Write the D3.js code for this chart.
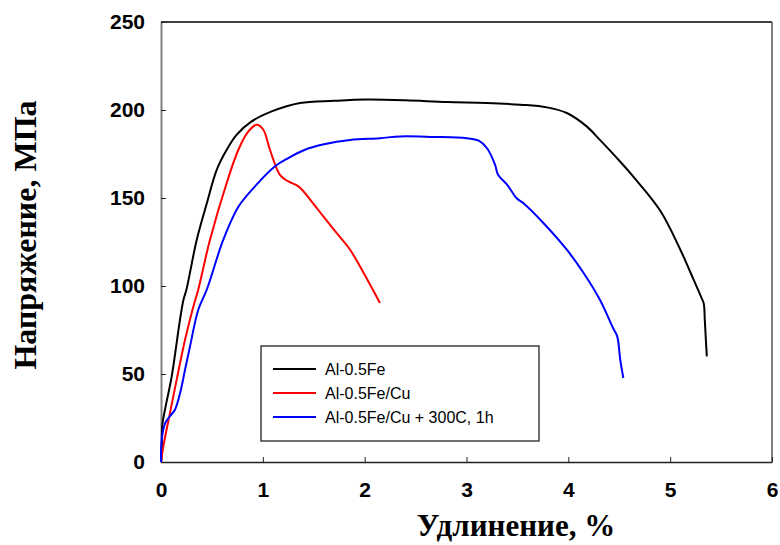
<!DOCTYPE html>
<html>
<head>
<meta charset="utf-8">
<script src="https://cdn.jsdelivr.net/npm/d3@7"></script>
<style>
  body { margin: 0; background: #fff; }
  svg { display: block; }
</style>
</head>
<body>
<div id="chart"></div>
<script>
// tensile curves: strain (%) vs stress (MPa)
const seriesNames = ["Al-0.5Fe", "Al-0.5Fe/Cu", "Al-0.5Fe/Cu + 300C, 1h"];
const seriesColors = ["#000000", "#ff0000", "#0000ff"];

const blackStrain = [0, 0.007, 0.013, 0.04, 0.105, 0.187, 0.22, 0.25, 0.35, 0.45, 0.547, 0.645, 0.744, 0.89, 1.087, 1.365, 1.7, 2.02, 2.4, 2.81, 3.2, 3.53, 3.79, 3.985, 4.18, 4.31, 4.48, 4.64, 4.9, 5.1, 5.23, 5.31, 5.33, 5.34, 5.35, 5.36];
const blackStress = [0, 5, 21, 30, 48.6, 81, 92, 98, 126, 147, 166, 177.4, 186, 193.5, 199.2, 204, 205.2, 205.9, 205.5, 204.5, 204, 203, 201.5, 198.3, 190.7, 183, 172.5, 162, 143, 120.6, 103.6, 93, 90, 80.8, 70, 60];

const redStrain = [0, 0.023, 0.088, 0.154, 0.236, 0.318, 0.366, 0.48, 0.645, 0.76, 0.858, 0.94, 1.005, 1.07, 1.17, 1.25, 1.35, 1.48, 1.594, 1.726, 1.857, 1.99, 2.07, 2.15];
const redStress = [0, 8.9, 27.8, 46.8, 69.5, 88.4, 98, 126, 158.5, 177.4, 187.8, 191.6, 188.8, 177.4, 163, 159.4, 156.6, 148, 139.5, 130, 120.6, 107.4, 99, 90.3];

const blueStrain = [0, 0.007, 0.04, 0.088, 0.137, 0.187, 0.236, 0.285, 0.366, 0.45, 0.61, 0.76, 0.923, 1.12, 1.25, 1.414, 1.6, 1.857, 2.15, 2.35, 2.675, 3.0, 3.12, 3.2, 3.28, 3.31, 3.4, 3.49, 3.56, 3.755, 3.985, 4.15, 4.31, 4.44, 4.48, 4.51, 4.54];
const blueStress = [0, 12.7, 22, 26, 29.7, 39, 52.4, 65.7, 86.5, 98, 126, 145, 156.6, 168, 172.7, 177.4, 180.5, 183, 184, 185, 184.7, 184, 182.6, 178.4, 169, 163.2, 157.5, 150, 147, 135.8, 120.6, 107.4, 92.2, 76, 71.4, 58, 47.7];

const xTicks = [0, 1, 2, 3, 4, 5, 6];
const yTicks = [0, 50, 100, 150, 200, 250];

const width = 780, height = 545;
const margin = { left: 161, right: 8, top: 22, bottom: 83 };

const svg = d3.select("#chart").append("svg")
    .attr("width", width)
    .attr("height", height);

const x = d3.scaleLinear().domain([0, 6]).range([margin.left, width - margin.right]);
const y = d3.scaleLinear().domain([0, 250]).range([height - margin.bottom, margin.top]);

// frame: top/bottom dark, left/right grey
svg.append("line")
    .attr("x1", x(0)).attr("x2", x(6)).attr("y1", y(250)).attr("y2", y(250))
    .attr("stroke", "#000").attr("stroke-width", 1.3);
svg.append("line")
    .attr("x1", x(6)).attr("x2", x(6)).attr("y1", y(250)).attr("y2", y(0))
    .attr("stroke", "#555").attr("stroke-width", 1.5);

let xAxis = svg.append("g")
    .attr("transform", "translate(0," + y(0) + ")")
    .call(d3.axisBottom(x).tickValues(xTicks).tickSizeInner(-5).tickSizeOuter(0).tickPadding(20).tickFormat(d3.format("d")));
xAxis.select(".domain").attr("stroke", "#222").attr("stroke-width", 1.6);
xAxis.selectAll(".tick line").attr("stroke", "#222");
xAxis.selectAll(".tick text")
    .style("font-family", "'Liberation Sans', Arial, sans-serif")
    .style("font-weight", "bold")
    .style("font-size", "21px")
    .attr("fill", "#000");

let yAxis = svg.append("g")
    .attr("transform", "translate(" + x(0) + ",0)")
    .call(d3.axisLeft(y).tickValues(yTicks).tickSizeInner(-5).tickSizeOuter(0).tickPadding(16));
yAxis.select(".domain").attr("stroke", "#808080").attr("stroke-width", 2);
yAxis.selectAll(".tick line").attr("stroke", "#222");
yAxis.selectAll(".tick text")
    .style("font-family", "'Liberation Sans', Arial, sans-serif")
    .style("font-weight", "bold")
    .style("font-size", "21px")
    .attr("fill", "#000");

// curves
const curves = [
    blackStrain.map((s, i) => [s, blackStress[i]]),
    redStrain.map((s, i) => [s, redStress[i]]),
    blueStrain.map((s, i) => [s, blueStress[i]])
];

let line = d3.line()
    .x(d => x(d[0]))
    .y(d => y(d[1]))
    .curve(d3.curveCatmullRom.alpha(0.5));

svg.append("g").selectAll("path")
    .data(curves)
    .join("path")
    .attr("d", line)
    .attr("fill", "none")
    .attr("stroke", (d, i) => seriesColors[i])
    .attr("stroke-width", 2)
    .attr("stroke-linejoin", "round");

// legend
let legend = svg.append("g").attr("transform", "translate(261,346)");
legend.append("rect")
    .attr("width", 278).attr("height", 95)
    .attr("fill", "#fff").attr("stroke", "#222").attr("stroke-width", 1.3);
seriesNames.forEach(function (name, i) {
    let ly = 23 + i * 24;
    legend.append("line")
        .attr("x1", 12).attr("x2", 55).attr("y1", ly).attr("y2", ly)
        .attr("stroke", seriesColors[i]).attr("stroke-width", 2);
    legend.append("text")
        .attr("x", 64).attr("y", ly).attr("dy", "0.35em")
        .style("font-family", "'Liberation Sans', Arial, sans-serif")
        .style("font-size", "16px")
        .text(name);
});

// axis titles
svg.append("text")
    .attr("x", 516).attr("y", 536)
    .attr("text-anchor", "middle")
    .style("font-family", "'Liberation Serif', 'Times New Roman', serif")
    .style("font-weight", "bold")
    .style("font-size", "31px")
    .text("Удлинение, %");

svg.append("text")
    .attr("transform", "translate(36,235) rotate(-90)")
    .attr("text-anchor", "middle")
    .style("font-family", "'Liberation Serif', 'Times New Roman', serif")
    .style("font-weight", "bold")
    .style("font-size", "32px")
    .text("Напряжение, МПа");
</script>
</body>
</html>
